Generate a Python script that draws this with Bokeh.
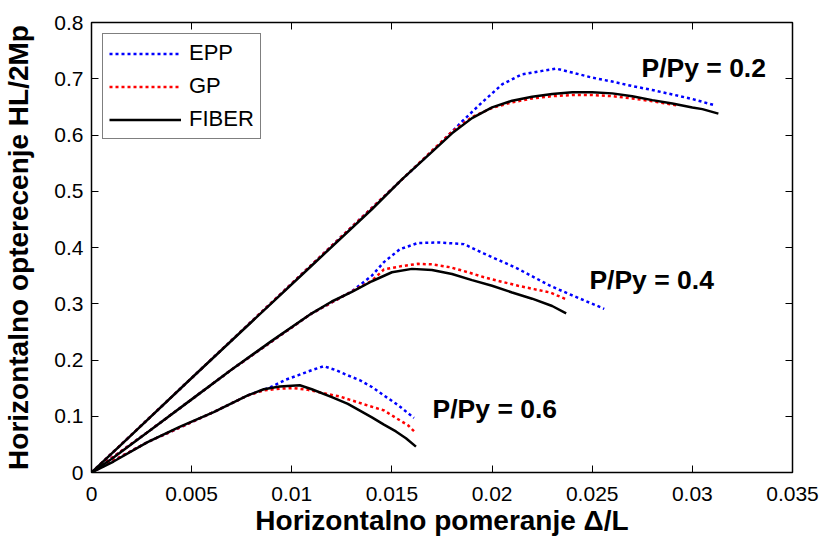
from bokeh.plotting import figure
from bokeh.models import (Range1d, FixedTicker, CustomJSTickFormatter, LinearAxis,
                          Legend, LegendItem, Label)
from bokeh.embed import file_html
from bokeh.resources import INLINE

# ---------------- data ----------------
x_ticks = [0, 0.005, 0.01, 0.015, 0.02, 0.025, 0.03, 0.035]
y_ticks = [0, 0.1, 0.2, 0.3, 0.4, 0.5, 0.6, 0.7, 0.8]

# P/Py = 0.2
fiber_02_x = [0, 0.002, 0.005, 0.008, 0.011, 0.014, 0.0155, 0.017, 0.018, 0.019, 0.020, 0.021,
              0.022, 0.023, 0.024, 0.025, 0.026, 0.027, 0.028, 0.029, 0.030, 0.0305, 0.0313]
fiber_02_y = [0, 0.067, 0.168, 0.268, 0.368, 0.468, 0.521, 0.570, 0.603, 0.630, 0.649, 0.661,
              0.668, 0.673, 0.676, 0.676, 0.674, 0.669, 0.662, 0.656, 0.649, 0.646, 0.638]
epp_02_x = [0, 0.005, 0.010, 0.015, 0.0175, 0.0185, 0.0195, 0.0205, 0.0215, 0.0225, 0.0232,
            0.024, 0.025, 0.026, 0.027, 0.028, 0.029, 0.030, 0.0311]
epp_02_y = [0, 0.168, 0.336, 0.504, 0.588, 0.624, 0.658, 0.690, 0.708, 0.714, 0.718,
            0.711, 0.702, 0.695, 0.687, 0.680, 0.672, 0.664, 0.653]
gp_02_x = [0, 0.005, 0.010, 0.015, 0.017, 0.018, 0.019, 0.020, 0.021, 0.022, 0.023, 0.024,
           0.025, 0.026, 0.027, 0.028, 0.0293]
gp_02_y = [0, 0.168, 0.336, 0.504, 0.572, 0.606, 0.632, 0.648, 0.658, 0.665, 0.669, 0.671,
           0.671, 0.669, 0.665, 0.660, 0.652]

# P/Py = 0.4
fiber_04_x = [0, 0.001, 0.003, 0.005, 0.007, 0.009, 0.011, 0.012, 0.013, 0.014, 0.015, 0.016,
              0.017, 0.018, 0.019, 0.020, 0.021, 0.022, 0.023, 0.0237]
fiber_04_y = [0, 0.024, 0.077, 0.130, 0.183, 0.234, 0.283, 0.304, 0.321, 0.340, 0.356, 0.362,
              0.360, 0.353, 0.342, 0.332, 0.320, 0.309, 0.296, 0.283]
epp_04_x = [0, 0.003, 0.007, 0.011, 0.013, 0.014, 0.0146, 0.0154, 0.0163, 0.0173, 0.0186,
            0.0196, 0.0205, 0.0213, 0.0221, 0.0229, 0.0238, 0.0246, 0.0256]
epp_04_y = [0, 0.077, 0.183, 0.283, 0.322, 0.350, 0.374, 0.397, 0.408, 0.409, 0.406,
            0.389, 0.375, 0.362, 0.347, 0.332, 0.318, 0.306, 0.291]
gp_04_x = [0, 0.003, 0.007, 0.011, 0.013, 0.014, 0.0146, 0.0155, 0.0163, 0.017, 0.0179,
           0.0188, 0.0196, 0.0205, 0.0213, 0.0221, 0.0229, 0.0237]
gp_04_y = [0, 0.077, 0.183, 0.283, 0.322, 0.341, 0.361, 0.367, 0.371, 0.370, 0.365,
           0.356, 0.347, 0.339, 0.332, 0.326, 0.320, 0.308]

# P/Py = 0.6
fiber_06_x = [0, 0.0011, 0.0028, 0.0044, 0.0061, 0.0078, 0.0086, 0.0094, 0.0104, 0.011, 0.012,
              0.0128, 0.0134, 0.014, 0.0146, 0.0152, 0.0157, 0.0162]
fiber_06_y = [0, 0.0195, 0.054, 0.081, 0.1075, 0.137, 0.148, 0.153, 0.155, 0.148, 0.134,
              0.122, 0.110, 0.098, 0.085, 0.073, 0.061, 0.046]
epp_06_x = [0, 0.0028, 0.0061, 0.0078, 0.0089, 0.0097, 0.0103, 0.011, 0.0116, 0.0122, 0.0128,
            0.0134, 0.014, 0.0146, 0.0153, 0.0161]
epp_06_y = [0, 0.054, 0.1075, 0.137, 0.151, 0.165, 0.1726, 0.182, 0.189, 0.182, 0.1726,
            0.164, 0.152, 0.137, 0.120, 0.097]
gp_06_x = [0, 0.0028, 0.0061, 0.0078, 0.0086, 0.0094, 0.0101, 0.0108, 0.0116, 0.0124, 0.0131,
           0.0138, 0.0146, 0.0152, 0.0158, 0.0162]
gp_06_y = [0, 0.054, 0.1075, 0.137, 0.146, 0.149, 0.150, 0.147, 0.141, 0.135, 0.127,
           0.119, 0.1105, 0.097, 0.084, 0.070]

series_names = ["EPP", "GP", "FIBER"]
annotations = ["P/Py = 0.2", "P/Py = 0.4", "P/Py = 0.6"]
ann_x = [0.02746, 0.02486, 0.01703]
ann_y = [0.720, 0.342, 0.1135]

# ---------------- figure ----------------
p = figure(width=821, height=538, output_backend="svg", toolbar_location=None,
           x_range=Range1d(0, 0.035), y_range=Range1d(0, 0.8),
           min_border_left=91, min_border_right=29, min_border_top=22, min_border_bottom=65)
p.xgrid.visible = False
p.ygrid.visible = False
p.outline_line_color = "black"
p.outline_line_width = 1.5
p.background_fill_color = "white"
p.border_fill_color = "white"

fmt_x = CustomJSTickFormatter(code="return String(Number(tick.toFixed(3)));")
fmt_y = CustomJSTickFormatter(code="return String(Number(tick.toFixed(1)));")
blank = CustomJSTickFormatter(code="return '';")

for ax, tk, fm in ((p.xaxis[0], x_ticks, fmt_x), (p.yaxis[0], y_ticks, fmt_y)):
    ax.ticker = FixedTicker(ticks=tk)
    ax.formatter = fm
    ax.major_tick_in = 7
    ax.major_tick_out = 0
    ax.minor_tick_line_color = None
    ax.axis_line_color = "black"
    ax.major_tick_line_color = "black"
    ax.major_label_text_font = "Liberation Sans"
    ax.major_label_text_font_size = "21px"
    ax.major_label_text_color = "black"
    ax.axis_label_text_font = "Liberation Sans"
    ax.axis_label_text_font_style = "bold"
    ax.axis_label_text_font_size = "28px"
    ax.axis_label_text_color = "black"

p.xaxis[0].axis_label = "Horizontalno pomeranje \u0394/L"
p.yaxis[0].axis_label = "Horizontalno opterecenje HL/2Mp"
p.xaxis[0].major_label_standoff = 14
p.xaxis[0].axis_label_standoff = 1
p.yaxis[0].major_label_standoff = 8
p.yaxis[0].axis_label_standoff = 17

for loc, tk in (("above", x_ticks), ("right", y_ticks)):
    ax = LinearAxis(ticker=FixedTicker(ticks=tk), formatter=blank,
                    major_tick_in=7, major_tick_out=0, minor_tick_line_color=None,
                    major_label_text_font_size="0px", major_label_standoff=0,
                    axis_line_color="black", major_tick_line_color="black")
    p.add_layout(ax, loc)

blue = "#0000ff"
red = "#ff0000"
lw = 2.5
dash = "3 3"

epp_r, gp_r, fib_r = [], [], []
for ex, ey in ((epp_02_x, epp_02_y), (epp_04_x, epp_04_y), (epp_06_x, epp_06_y)):
    epp_r.append(p.line(ex, ey, line_color=blue, line_width=lw, line_dash=dash))
for gx, gy in ((gp_02_x, gp_02_y), (gp_04_x, gp_04_y), (gp_06_x, gp_06_y)):
    gp_r.append(p.line(gx, gy, line_color=red, line_width=lw, line_dash=dash))
for fx, fy in ((fiber_02_x, fiber_02_y), (fiber_04_x, fiber_04_y), (fiber_06_x, fiber_06_y)):
    fib_r.append(p.line(fx, fy, line_color="black", line_width=lw))

legend = Legend(items=[LegendItem(label=series_names[0], renderers=[epp_r[0]]),
                       LegendItem(label=series_names[1], renderers=[gp_r[0]]),
                       LegendItem(label=series_names[2], renderers=[fib_r[0]])],
                location="top_left", margin=11, padding=6, spacing=7,
                glyph_width=72, glyph_height=17, label_height=17, label_standoff=8,
                label_text_font="Liberation Sans", label_text_font_size="22px",
                label_text_color="black", border_line_color="black", border_line_width=1.5,
                background_fill_color="white", background_fill_alpha=1.0)
p.add_layout(legend)

for t, ax_, ay_ in zip(annotations, ann_x, ann_y):
    p.add_layout(Label(x=ax_, y=ay_, text=t, text_font="Liberation Sans",
                       text_font_style="bold", text_font_size="26.5px",
                       text_color="black", text_baseline="middle", text_align="left"))

open("out.html", "w").write(file_html(p, INLINE))
